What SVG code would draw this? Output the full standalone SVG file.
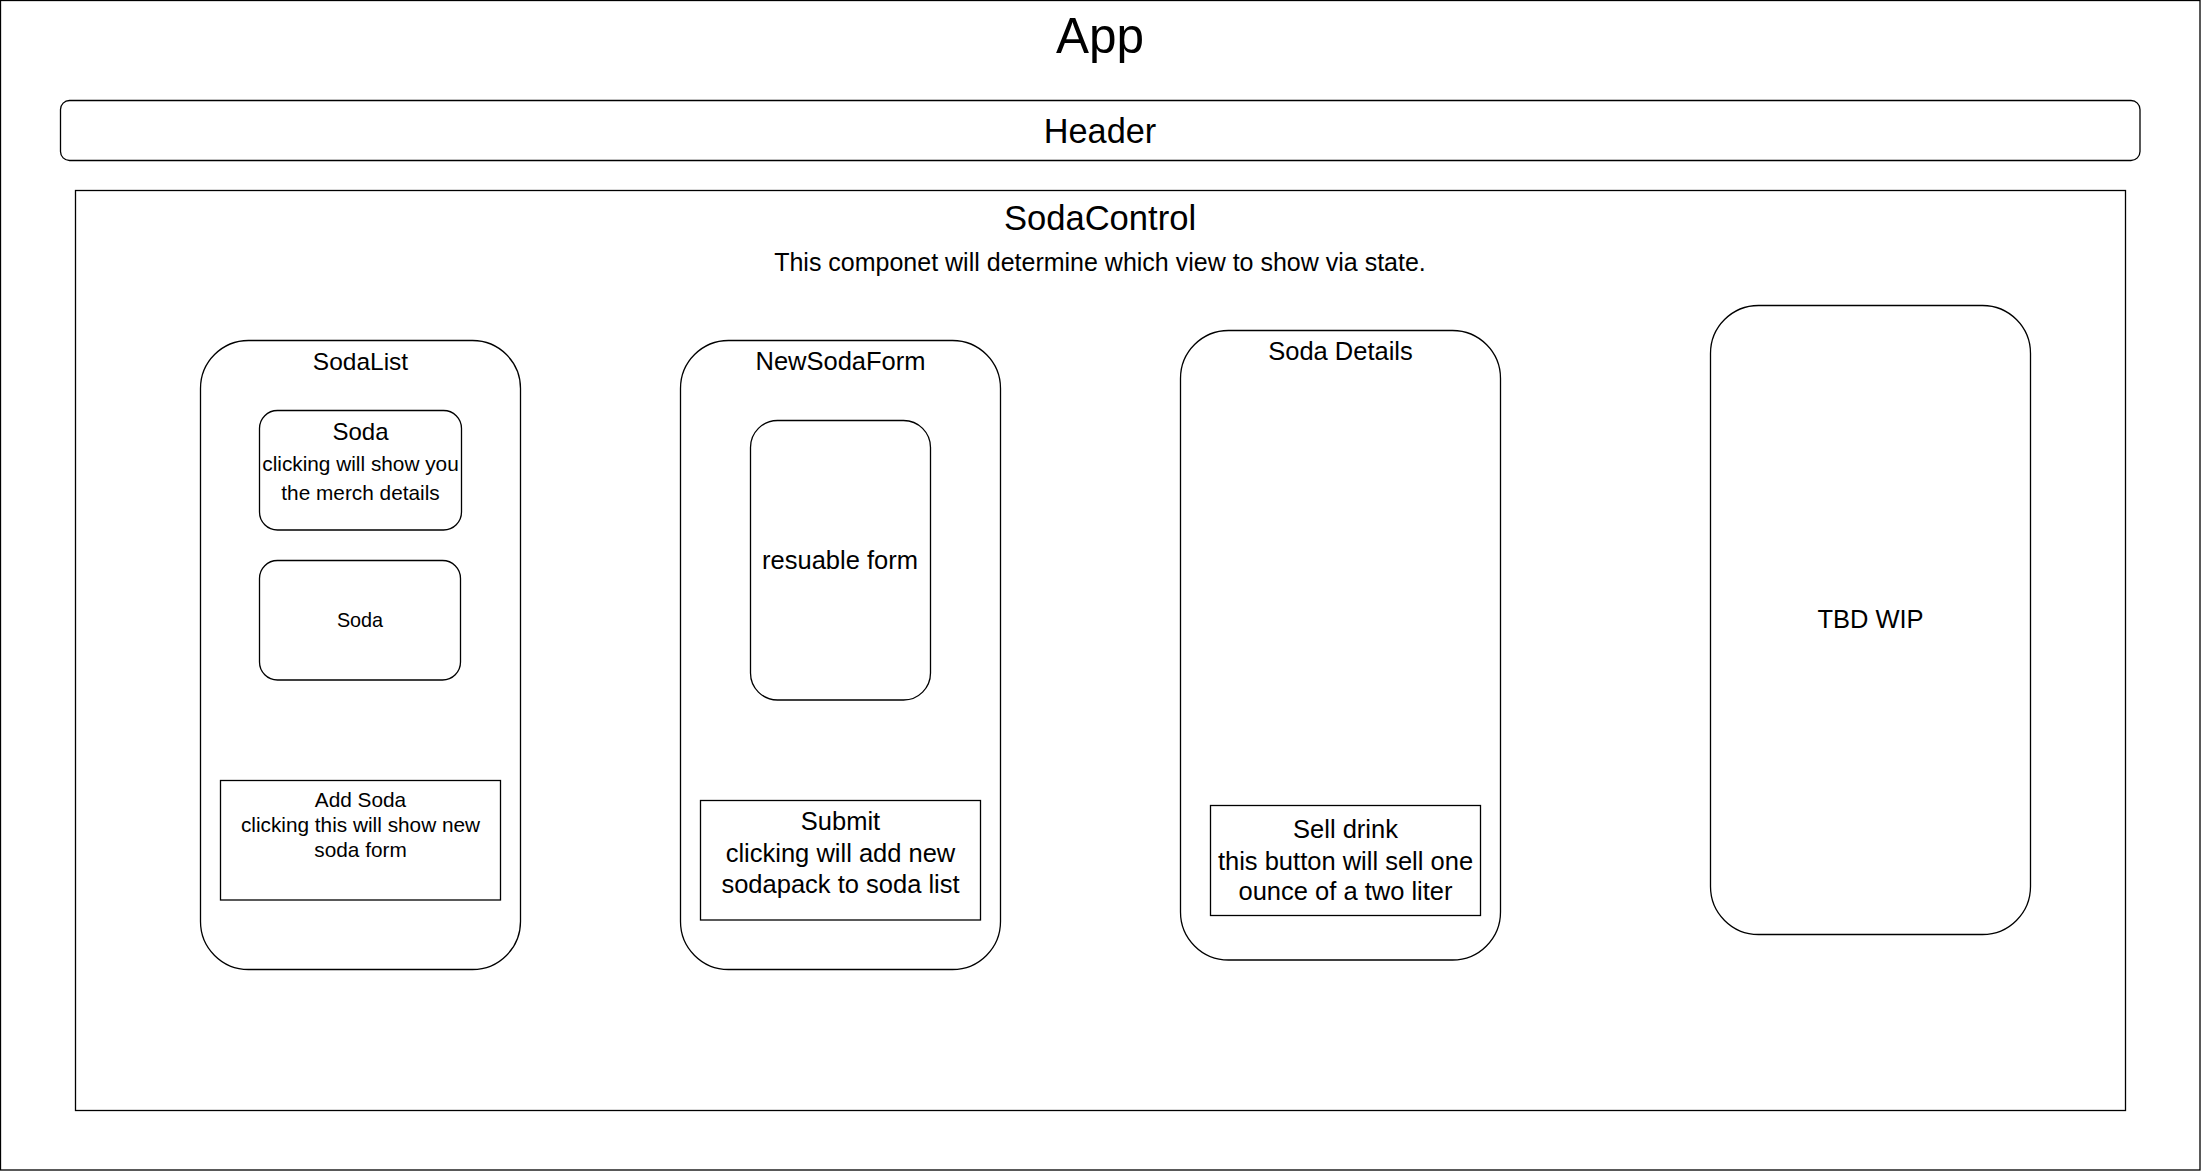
<svg xmlns="http://www.w3.org/2000/svg" width="2201" height="1171" viewBox="0 0 2201 1171">
<style>
.box{fill:#fff;stroke:#000;stroke-width:1.3}
.t{font-family:"Liberation Sans",Arial,Helvetica,sans-serif;fill:#000;text-anchor:middle}
</style>
<rect x="0" y="0" width="2201" height="1171" fill="#fff"/>
<g id="app">
<rect class="box" x="0.5" y="0.5" width="2199.5" height="1169.5"/>
<text class="t" x="1100" y="53" font-size="49.5">App</text>
</g>
<g id="header">
<rect class="box" x="60.5" y="100.5" width="2079.5" height="60" rx="9" ry="9"/>
<text class="t" x="1100" y="143" font-size="34.3">Header</text>
</g>
<g id="sodacontrol">
<rect class="box" x="75.5" y="190.5" width="2050" height="920"/>
<text class="t" x="1100" y="230" font-size="34.6">SodaControl</text>
<text class="t" x="1100" y="270.5" font-size="25">This componet will determine which view to show via state.</text>
</g>
<g id="sodalist">
<rect class="box" x="200.5" y="340.5" width="320" height="629" rx="48" ry="48"/>
<text class="t" x="360.5" y="370" font-size="24.5">SodaList</text>
</g>
<g id="soda1">
<rect class="box" x="259.5" y="410.5" width="202" height="119.5" rx="18" ry="18"/>
<text class="t" x="360.5" y="440" font-size="24">Soda</text>
<text class="t" x="360.5" y="470.5" font-size="20.8">clicking will show you</text>
<text class="t" x="360.5" y="500" font-size="20.8">the merch details</text>
</g>
<g id="soda2">
<rect class="box" x="259.5" y="560.5" width="201" height="119.5" rx="18" ry="18"/>
<text class="t" x="360" y="627" font-size="19.8">Soda</text>
</g>
<g id="addsoda">
<rect class="box" x="220.5" y="780.5" width="280" height="119.5"/>
<text class="t" x="360.5" y="806.5" font-size="20.8">Add Soda</text>
<text class="t" x="360.5" y="831.5" font-size="20.8">clicking this will show new</text>
<text class="t" x="360.5" y="856.5" font-size="20.8">soda form</text>
</g>
<g id="newsodaform">
<rect class="box" x="680.5" y="340.5" width="320" height="629" rx="48" ry="48"/>
<text class="t" x="840.5" y="370" font-size="25.5">NewSodaForm</text>
</g>
<g id="reusableform">
<rect class="box" x="750.5" y="420.5" width="180" height="279.5" rx="27" ry="27"/>
<text class="t" x="840" y="569" font-size="25.5">resuable form</text>
</g>
<g id="submit">
<rect class="box" x="700.5" y="800.5" width="280" height="119.5"/>
<text class="t" x="840.5" y="830" font-size="25.5">Submit</text>
<text class="t" x="840.5" y="862" font-size="25.5">clicking will add new</text>
<text class="t" x="840.5" y="892.5" font-size="25.5">sodapack to soda list</text>
</g>
<g id="sodadetails">
<rect class="box" x="1180.5" y="330.5" width="320" height="629.5" rx="48" ry="48"/>
<text class="t" x="1340.5" y="360" font-size="25.5">Soda Details</text>
</g>
<g id="selldrink">
<rect class="box" x="1210.5" y="805.5" width="270" height="110"/>
<text class="t" x="1345.5" y="837.5" font-size="25.5">Sell drink</text>
<text class="t" x="1345.5" y="870" font-size="25.5">this button will sell one</text>
<text class="t" x="1345.5" y="900" font-size="25.5">ounce of a two liter</text>
</g>
<g id="tbdwip">
<rect class="box" x="1710.5" y="305.5" width="320" height="629" rx="48" ry="48"/>
<text class="t" x="1870.5" y="628" font-size="25.5">TBD WIP</text>
</g>
<g id="connectors"></g>
</svg>
